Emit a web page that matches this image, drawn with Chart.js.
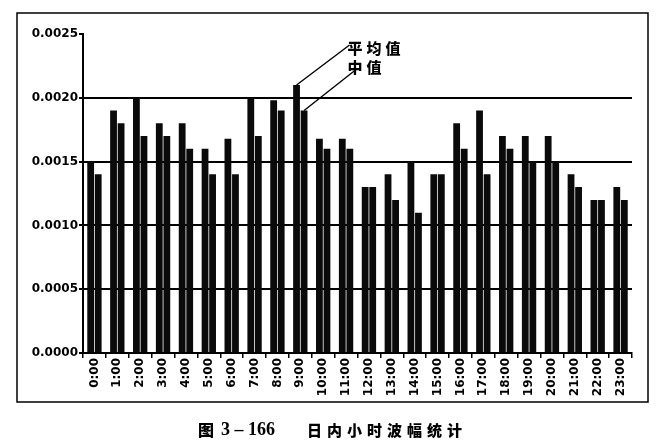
<!DOCTYPE html>
<html>
<head>
<meta charset="utf-8">
<script src="https://cdn.jsdelivr.net/npm/chart.js@4.4.0/dist/chart.umd.min.js"></script>
<style>
  html, body { margin: 0; padding: 0; background: #fff; }
  #wrap { width: 672px; height: 448px; }
</style>
</head>
<body>
<div id="wrap"><canvas id="boChart" width="672" height="448"></canvas></div>
<script>
const horas = ['0:00', '1:00', '2:00', '3:00', '4:00', '5:00', '6:00', '7:00', '8:00', '9:00', '10:00', '11:00',
  '12:00', '13:00', '14:00', '15:00', '16:00', '17:00', '18:00', '19:00', '20:00', '21:00', '22:00', '23:00'];

// 平均值
const mediaValores = [0.0015, 0.0019, 0.0020, 0.0018, 0.0018, 0.0016, 0.00168, 0.0020, 0.00198, 0.0021, 0.00168, 0.00168,
  0.0013, 0.0014, 0.0015, 0.0014, 0.0018, 0.0019, 0.0017, 0.0017, 0.0017, 0.0014, 0.0012, 0.0013];

// 中值
const medianaValores = [0.0014, 0.0018, 0.0017, 0.0017, 0.0016, 0.0014, 0.0014, 0.0017, 0.0019, 0.0019, 0.0016, 0.0016,
  0.0013, 0.0012, 0.0011, 0.0014, 0.0016, 0.0014, 0.0016, 0.0015, 0.0015, 0.0013, 0.0012, 0.0012];

const yTicks = [0, 0.0005, 0.0010, 0.0015, 0.0020, 0.0025];

const cjk = '"Noto Sans CJK SC", sans-serif';
const tickFont = { family: '"DejaVu Sans", sans-serif', size: 12, weight: 'bold' };

// moldura, legenda com setas e título de baixo
const extras = {
  id: 'extras',
  afterDraw(chart) {
    const ctx = chart.ctx;
    ctx.save();
    ctx.strokeStyle = '#000';
    ctx.lineWidth = 1.5;
    ctx.strokeRect(17, 13, 631, 389);

    const a = chart.getDatasetMeta(0).data[9];
    const m = chart.getDatasetMeta(1).data[9];
    ctx.lineWidth = 1.4;
    ctx.beginPath();
    ctx.moveTo(a.x, a.y);
    ctx.lineTo(a.x + 53, a.y - 40);
    ctx.moveTo(m.x, m.y);
    ctx.lineTo(m.x + 52, m.y - 41);
    ctx.stroke();

    ctx.fillStyle = '#000';
    ctx.textBaseline = 'middle';
    ctx.textAlign = 'left';
    ctx.font = '900 15px ' + cjk;
    ctx.letterSpacing = '4px';
    ctx.fillText('平均值', a.x + 51, a.y - 37);
    ctx.fillText('中值', a.x + 51, a.y - 18);

    ctx.letterSpacing = '0px';
    ctx.font = '900 16px ' + cjk;
    ctx.fillText('图', 198, 430);
    ctx.font = 'bold 18px "Liberation Serif", serif';
    ctx.fillText('3 – 166', 221, 430);
    ctx.font = '900 15px ' + cjk;
    ctx.letterSpacing = '5px';
    ctx.fillText('日内小时波幅统计', 307, 430);
    ctx.restore();
  }
};

new Chart(document.getElementById('boChart'), {
  type: 'bar',
  data: {
    labels: horas,
    datasets: [{
      label: '平均值',
      data: mediaValores,
      backgroundColor: '#0a0a0a',
      categoryPercentage: 0.66,
      barPercentage: 0.9
    }, {
      label: '中值',
      data: medianaValores,
      backgroundColor: '#0a0a0a',
      categoryPercentage: 0.66,
      barPercentage: 0.9
    }]
  },
  options: {
    responsive: false,
    animation: false,
    devicePixelRatio: 1,
    layout: { padding: { left: 20, right: 40, top: 34, bottom: 50 } },
    plugins: {
      legend: { display: false },
      tooltip: { enabled: false }
    },
    scales: {
      x: {
        offset: true,
        afterFit(scale) { scale.height = 45; },
        grid: { display: true, drawOnChartArea: false, color: '#000', tickLength: 5, lineWidth: 1.5 },
        border: { display: true, color: '#000', width: 2 },
        ticks: { color: '#000', font: tickFont, minRotation: 90, maxRotation: 90, padding: 0, autoSkip: false }
      },
      y: {
        min: 0,
        max: 0.0025,
        afterFit(scale) { scale.width = 63; },
        afterBuildTicks(scale) { scale.ticks = yTicks.map(v => ({ value: v })); },
        grid: {
          color: c => (c.tick && c.tick.value > 0 && c.tick.value < 0.0025) ? '#000' : 'rgba(0,0,0,0)',
          tickColor: '#000',
          lineWidth: 2,
          tickLength: 4
        },
        border: { display: true, color: '#000', width: 2 },
        ticks: {
          color: '#000',
          font: tickFont,
          padding: 1,
          callback: v => v.toFixed(4)
        }
      }
    }
  },
  plugins: [extras]
});
</script>
</body>
</html>
